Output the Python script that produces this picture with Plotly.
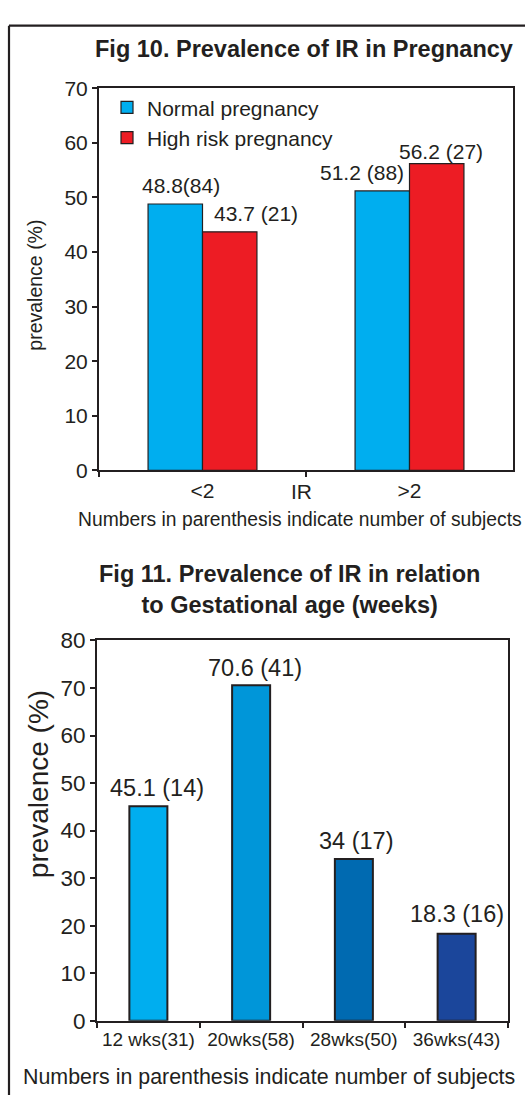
import plotly.graph_objects as go

# Fig 10: prevalence of IR by pregnancy type
ir_groups = ["<2", ">2"]
normal_pct = [48.8, 51.2]
normal_n = [84, 88]
high_risk_pct = [43.7, 56.2]
high_risk_n = [21, 27]

# Fig 11: prevalence of IR by gestational age
ga_labels = ["12 wks(31)", "20wks(58)", "28wks(50)", "36wks(43)"]
ga_pct = [45.1, 70.6, 34, 18.3]
ga_n = [14, 41, 17, 16]

INK = "#231F20"
FONT = "Liberation Sans, Arial, sans-serif"
W, H = 525, 1108


def px_x(v):
    return v / W


def px_y(v):
    return 1 - v / H


fig = go.Figure()

bw1 = 0.263
fig.add_trace(go.Bar(
    x=ir_groups, y=normal_pct, name="Normal pregnancy",
    width=bw1, offset=-bw1,
    marker=dict(color="#00AEEF", line=dict(color=INK, width=1.2)),
    xaxis="x", yaxis="y",
))
fig.add_trace(go.Bar(
    x=ir_groups, y=high_risk_pct, name="High risk pregnancy",
    width=bw1, offset=0,
    marker=dict(color="#ED1C24", line=dict(color=INK, width=1.2)),
    xaxis="x", yaxis="y",
))

bw2 = 0.37
fig.add_trace(go.Bar(
    x=ga_labels, y=ga_pct, showlegend=False,
    width=bw2, offset=-bw2 / 2,
    marker=dict(color=["#00AEEF", "#0096D9", "#006AB1", "#1B469B"],
                line=dict(color=INK, width=2)),
    xaxis="x2", yaxis="y2",
))

annotations = []

# value labels for Fig 10
normal_sep = ["", " "]
normal_text = [f"{v:g}{s}({n})" for v, s, n in zip(normal_pct, normal_sep, normal_n)]
high_text = [f"{v:g} ({n})" for v, n in zip(high_risk_pct, high_risk_n)]
normal_dx = [-22, -48]
normal_dy = [18, 18]
high_dx = [53, 31]
high_dy = [18, 12]
for cat, v, t, dx, dy in zip(ir_groups, normal_pct, normal_text, normal_dx, normal_dy):
    annotations.append(dict(x=cat, y=v, xref="x", yref="y", text=t, showarrow=False,
                            xshift=dx, yshift=dy, yanchor="middle",
                            font=dict(size=21, color=INK, family=FONT)))
for cat, v, t, dx, dy in zip(ir_groups, high_risk_pct, high_text, high_dx, high_dy):
    annotations.append(dict(x=cat, y=v, xref="x", yref="y", text=t, showarrow=False,
                            xshift=dx, yshift=dy, yanchor="middle",
                            font=dict(size=21, color=INK, family=FONT)))

# value labels for Fig 11
ga_text = [f"{v:g} ({n})" for v, n in zip(ga_pct, ga_n)]
ga_dx = [9, 4, 2, 0]
ga_dy = [18, 17, 18, 20]
for cat, v, t, dx, dy in zip(ga_labels, ga_pct, ga_text, ga_dx, ga_dy):
    annotations.append(dict(x=cat, y=v, xref="x2", yref="y2", text=t, showarrow=False,
                            xshift=dx, yshift=dy, yanchor="middle",
                            font=dict(size=23.5, color=INK, family=FONT)))

# titles, axis titles and notes
annotations += [
    dict(x=px_x(304), y=px_y(38), xref="paper", yref="paper", showarrow=False,
         text="<b>Fig 10. Prevalence of IR in Pregnancy</b>", yanchor="middle",
         font=dict(size=23.5, color=INK, family=FONT)),
    dict(x=px_x(289), y=px_y(591), xref="paper", yref="paper", showarrow=False,
         text="<b>Fig 11. Prevalence of IR in relation<br>to Gestational age (weeks)</b>",
         yanchor="middle", font=dict(size=23.5, color=INK, family=FONT)),
    dict(x=px_x(35), y=px_y(280), xref="paper", yref="paper", showarrow=False,
         text="prevalence (%)", textangle=-90, xanchor="center", yanchor="middle",
         font=dict(size=19.5, color=INK, family=FONT)),
    dict(x=px_x(38), y=px_y(790), xref="paper", yref="paper", showarrow=False,
         text="prevalence (%)", textangle=-90, xanchor="center", yanchor="middle",
         font=dict(size=28, color=INK, family=FONT)),
    dict(x=px_x(301), y=px_y(491), xref="paper", yref="paper", showarrow=False,
         text="IR", yanchor="middle", font=dict(size=21, color=INK, family=FONT)),
    dict(x=px_x(300), y=px_y(519), xref="paper", yref="paper", showarrow=False,
         text="Numbers in parenthesis indicate number of subjects", yanchor="middle",
         font=dict(size=19.3, color=INK, family=FONT)),
    dict(x=px_x(269), y=px_y(1090), xref="paper", yref="paper", showarrow=False,
         text="Numbers in parenthesis indicate number of subjects", yanchor="middle",
         font=dict(size=21.4, color=INK, family=FONT)),
]

# outer frame (left and top edges)
shapes = [
    dict(type="line", xref="paper", yref="paper", x0=px_x(9), x1=1.0,
         y0=px_y(14), y1=px_y(14), line=dict(color=INK, width=2.2)),
    dict(type="line", xref="paper", yref="paper", x0=px_x(9), x1=px_x(9),
         y0=px_y(14), y1=0, line=dict(color=INK, width=2.2)),
]

axis_common = dict(showline=True, mirror=True, linecolor=INK, linewidth=2,
                   ticks="outside", ticklen=5, tickwidth=1.5, tickcolor=INK,
                   showgrid=False, zeroline=False, fixedrange=True)

fig.update_layout(
    width=W, height=H,
    margin=dict(l=0, r=0, t=0, b=0),
    paper_bgcolor="white", plot_bgcolor="white",
    font=dict(family=FONT, color=INK),
    barmode="group",
    xaxis=dict(domain=[px_x(99), px_x(513)], anchor="y", type="category",
               tickson="boundaries", range=[-0.5, 1.5],
               tickfont=dict(size=21, color=INK, family=FONT), **axis_common),
    yaxis=dict(domain=[px_y(469), px_y(78)], anchor="x", range=[0, 70], dtick=10,
               tickfont=dict(size=21, color=INK, family=FONT), **axis_common),
    xaxis2=dict(domain=[px_x(97), px_x(508)], anchor="y2", type="category",
                tickson="boundaries", range=[-0.5, 3.5],
                tickfont=dict(size=19, color=INK, family=FONT), **axis_common),
    yaxis2=dict(domain=[px_y(1032), px_y(643)], anchor="x2", range=[0, 80], dtick=10,
                tickfont=dict(size=22.5, color=INK, family=FONT), **axis_common),
    legend=dict(x=px_x(107), y=px_y(77), xanchor="left", yanchor="top",
                bgcolor="rgba(0,0,0,0)", borderwidth=0,
                font=dict(size=21, color=INK, family=FONT),
                itemclick=False, itemdoubleclick=False),
    showlegend=True,
    annotations=annotations,
    shapes=shapes,
)

fig.write_html("out.html")
